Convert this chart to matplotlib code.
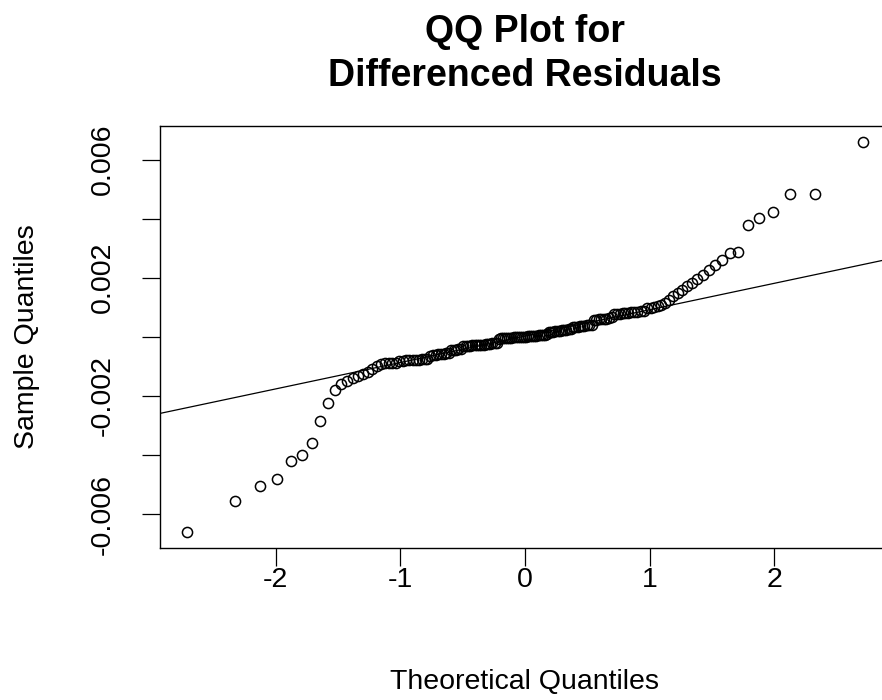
import matplotlib
matplotlib.use("Agg")
import matplotlib.pyplot as plt
import numpy as np
from statistics import NormalDist

plt.rcParams['font.family'] = ['Liberation Sans', 'DejaVu Sans']

# Sorted sample quantiles (differenced residuals)
sample = [
    -0.00662, -0.00556, -0.00505, -0.00482, -0.00422, -0.00400, -0.00358, -0.00284, -0.00223, -0.00181,
    -0.00158, -0.00148, -0.00140, -0.00132, -0.00125, -0.00118, -0.00110, -0.00100, -0.00092, -0.00090,
    -0.00089, -0.00088, -0.00087, -0.00082, -0.00081, -0.00080, -0.00080, -0.00079, -0.00078, -0.00077,
    -0.00076, -0.00075, -0.00074, -0.00066, -0.00063, -0.00061, -0.00059, -0.00058, -0.00057, -0.00055,
    -0.00053, -0.00045, -0.00044, -0.00043, -0.00042, -0.00040, -0.00032, -0.00031, -0.00030, -0.00030,
    -0.00029, -0.00028, -0.00028, -0.00027, -0.00026, -0.00026, -0.00025, -0.00024, -0.00023, -0.00022,
    -0.00021, -0.00020, -0.00006, -0.00005, -0.00005, -0.00004, -0.00004, -0.00003, -0.00003, -0.00002,
    -0.00002, -0.00001, 0.00000, 0.00000, 0.00001, 0.00001, 0.00002, 0.00002, 0.00003, 0.00003,
    0.00004, 0.00005, 0.00005, 0.00006, 0.00007, 0.00008, 0.00016, 0.00017, 0.00018, 0.00019,
    0.00020, 0.00021, 0.00022, 0.00023, 0.00024, 0.00025, 0.00026, 0.00033, 0.00034, 0.00035,
    0.00036, 0.00037, 0.00038, 0.00039, 0.00040, 0.00041, 0.00057, 0.00058, 0.00059, 0.00060,
    0.00061, 0.00062, 0.00063, 0.00066, 0.00077, 0.00078, 0.00079, 0.00080, 0.00081, 0.00082,
    0.00083, 0.00084, 0.00085, 0.00086, 0.00087, 0.00096, 0.00098, 0.00100, 0.00103, 0.00108,
    0.00115, 0.00125, 0.00137, 0.00148, 0.00160, 0.00172, 0.00184, 0.00197, 0.00211, 0.00226,
    0.00243, 0.00260, 0.00284, 0.00286, 0.00378, 0.00402, 0.00423, 0.00482, 0.00484, 0.00661,
]

x_ticks = [-2, -1, 0, 1, 2]
x_tick_labels = ["-2", "-1", "0", "1", "2"]
y_ticks = [-0.006, -0.004, -0.002, 0.0, 0.002, 0.004, 0.006]
y_tick_labels = ["-0.006", "", "-0.002", "", "0.002", "", "0.006"]

title_lines = ["QQ Plot for", "Differenced Residuals"]
x_label = "Theoretical Quantiles"
y_label = "Sample Quantiles"

# qqnorm: theoretical quantiles from ppoints
y = np.sort(np.array(sample))
n = len(y)
a = 3 / 8 if n <= 10 else 0.5
p = (np.arange(1, n + 1) - a) / (n + 1 - 2 * a)
nd = NormalDist()
x = np.array([nd.inv_cdf(v) for v in p])

# qqline through the quartiles
q_y = np.quantile(y, [0.25, 0.75])
q_x = np.array([nd.inv_cdf(0.25), nd.inv_cdf(0.75)])
slope = (q_y[1] - q_y[0]) / (q_x[1] - q_x[0])
intercept = q_y[0] - slope * q_x[0]

W, H = 882, 700
fig = plt.figure(figsize=(W / 100, H / 100), dpi=100)
ax = fig.add_axes([160 / W, 152 / H, 730 / W, 422 / H])

ax.plot(x, y, linestyle='none', marker='o', markersize=7.3,
        markerfacecolor='none', markeredgecolor='black', markeredgewidth=1.1)

xr = x.max() - x.min()
yr = y.max() - y.min()
xlim = (x.min() - 0.04 * xr, x.max() + 0.04 * xr)
ylim = (y.min() - 0.04 * yr, y.max() + 0.04 * yr)
ax.set_xlim(*xlim)
ax.set_ylim(*ylim)
ax.axline((0, intercept), slope=slope, color='black', linewidth=0.9)

ax.set_xticks(x_ticks)
ax.set_xticklabels(x_tick_labels)
ax.set_yticks(y_ticks)
ax.set_yticklabels(y_tick_labels, rotation=90, va='center')
ax.tick_params(direction='out', length=13, width=0.9, labelsize=20.5, colors='black')
ax.tick_params(axis='x', pad=1)
ax.tick_params(axis='y', pad=19)
for s in ax.spines.values():
    s.set_linewidth(1.0)

fig.text(525 / W, 1 - 42 / H, title_lines[0], ha='center', va='baseline',
         fontsize=27, fontweight='bold')
fig.text(525 / W, 1 - 86 / H, title_lines[1], ha='center', va='baseline',
         fontsize=27, fontweight='bold')
fig.text(525 / W, 1 - 682 / H, x_label, ha='center', va='center', fontsize=20.5)
fig.text(27 / W, 1 - 337 / H, y_label, ha='center', va='center', rotation=90, fontsize=20.5)

fig.savefig("out.png", dpi=100, facecolor='white')
